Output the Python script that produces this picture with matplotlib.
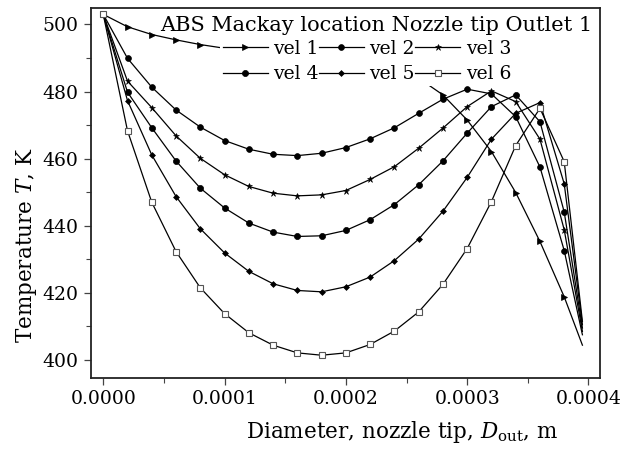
import matplotlib
matplotlib.use("Agg")
import matplotlib.pyplot as plt
from matplotlib.ticker import FixedLocator, FixedFormatter, MultipleLocator

plt.rcParams['font.family'] = ['DejaVu Serif']
plt.rcParams['mathtext.fontset'] = 'dejavuserif'

# ---- data ----
diameter = [0.0, 0.00002, 0.00004, 0.00006, 0.00008, 0.00010, 0.00012, 0.00014,
            0.00016, 0.00018, 0.00020, 0.00022, 0.00024, 0.00026, 0.00028,
            0.00030, 0.00032, 0.00034, 0.00036, 0.00038, 0.000395]

vel1 = [503.0, 499.3, 497.0, 495.4, 494.0, 492.9, 491.9, 491.0, 490.3, 489.8,
        489.5, 489.0, 487.5, 484.0, 479.0, 471.5, 462.1, 449.9, 435.3, 418.8, 404.4]
vel2 = [503.0, 489.9, 481.3, 474.5, 469.4, 465.4, 462.8, 461.3, 460.9, 461.6,
        463.3, 465.9, 469.2, 473.5, 477.7, 480.7, 479.3, 472.5, 457.5, 432.6, 407.5]
vel3 = [503.0, 483.1, 475.2, 466.8, 460.1, 455.2, 451.7, 449.7, 448.9, 449.2,
        450.5, 453.8, 457.6, 463.1, 469.1, 475.5, 480.2, 477.0, 465.8, 438.8, 408.5]
vel4 = [503.0, 479.8, 469.2, 459.3, 451.2, 445.3, 440.8, 438.1, 436.8, 437.0,
        438.6, 441.8, 446.3, 452.2, 459.3, 467.6, 475.5, 479.0, 471.0, 444.1, 409.5]
vel5 = [503.0, 477.3, 461.1, 448.7, 439.1, 431.9, 426.4, 422.7, 420.7, 420.3,
        421.8, 424.7, 429.6, 436.0, 444.3, 454.4, 465.8, 473.5, 476.7, 452.5, 410.5]
vel6 = [503.0, 468.3, 447.0, 432.3, 421.5, 413.8, 408.1, 404.4, 402.1, 401.4,
        402.1, 404.6, 408.6, 414.3, 422.5, 433.2, 447.2, 463.9, 475.0, 459.1, 411.5]

series_names = ["vel 1", "vel 2", "vel 3", "vel 4", "vel 5", "vel 6"]
legend_title = "ABS Mackay location Nozzle tip Outlet 1"
x_ticks = [0.0, 0.0001, 0.0002, 0.0003, 0.0004]
x_tick_labels = ["0.0000", "0.0001", "0.0002", "0.0003", "0.0004"]
y_ticks = [400, 420, 440, 460, 480, 500]
y_tick_labels = ["400", "420", "440", "460", "480", "500"]

# ---- figure ----
fig = plt.figure(figsize=(6.38, 4.5), dpi=100)
ax = fig.add_axes([91/638, 1-377.7/450, (600-91)/638, (377.7-8)/450])

styles = [
    dict(marker='>', ms=4.0, mfc='black', mec='black', mew=0.5),
    dict(marker='o', ms=4.2, mfc='black', mec='black', mew=0.5),
    dict(marker='*', ms=5.0, mfc='black', mec='black', mew=0.4),
    dict(marker='o', ms=4.4, mfc='black', mec='black', mew=0.5),
    dict(marker='D', ms=3.0, mfc='black', mec='black', mew=0.5),
    dict(marker='s', ms=4.0, mfc='white', mec='#555555', mew=0.8),
]
series = [vel1, vel2, vel3, vel4, vel5, vel6]
handles = []
for vals, name, st in zip(series, series_names, styles):
    h, = ax.plot(diameter, vals, color='black', lw=0.9, markevery=slice(0, -1),
                 label=name, **st)
    handles.append(h)

ax.set_xlim(-0.0000101, 0.0004095)
ax.set_ylim(394.7, 504.9)

ax.xaxis.set_major_locator(FixedLocator(x_ticks))
ax.xaxis.set_major_formatter(FixedFormatter(x_tick_labels))
ax.xaxis.set_minor_locator(MultipleLocator(0.00005))
ax.yaxis.set_major_locator(FixedLocator(y_ticks))
ax.yaxis.set_major_formatter(FixedFormatter(y_tick_labels))
ax.yaxis.set_minor_locator(MultipleLocator(10))

ax.tick_params(which='major', direction='out', length=5, width=0.9, color='#444444',
               labelsize=13.5, pad=4, top=False, right=False)
ax.tick_params(which='minor', direction='out', length=3.5, width=0.8, color='#444444',
               top=False, right=False)
for sp in ax.spines.values():
    sp.set_linewidth(1.3)
    sp.set_color('#222222')

ax.set_xlabel(r'Diameter, nozzle tip, $D_{\mathrm{out}}$, m', fontsize=15.5)
ax.set_ylabel(r'Temperature $T$, K', fontsize=15.5)
ax.xaxis.set_label_coords(0.611, -0.112)
ax.yaxis.set_label_coords(-0.103, 0.359)

order = [0, 3, 1, 4, 2, 5]
leg = ax.legend([handles[i] for i in order], [series_names[i] for i in order],
                ncol=3, loc='upper left', bbox_to_anchor=(0.2534, 0.922),
                borderaxespad=0, borderpad=0.15, frameon=True, fancybox=False,
                edgecolor='none', facecolor='white', framealpha=1,
                fontsize=13.5, handlelength=2.4, handletextpad=0.3,
                columnspacing=0.0, labelspacing=0.4, numpoints=1)
ax.text(0.561, 0.954, legend_title, transform=ax.transAxes, ha='center', va='center',
        fontsize=15, zorder=6)

fig.savefig('out.png', dpi=100)
